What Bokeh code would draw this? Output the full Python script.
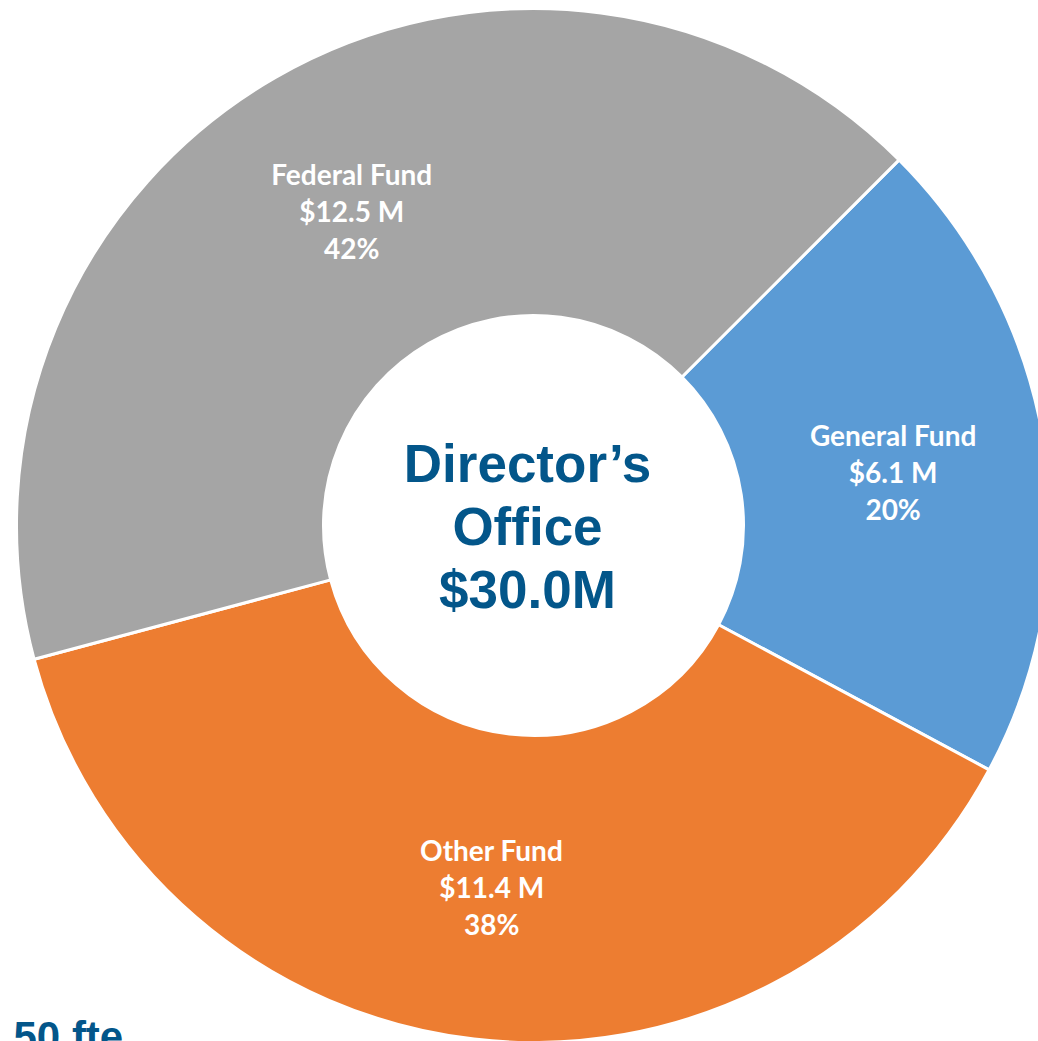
import math
from bokeh.plotting import figure
from bokeh.models import Range1d, ColumnDataSource
from bokeh.core.properties import value
from bokeh.embed import file_html
from bokeh.resources import INLINE

# ---- data ----
categories = ["General Fund", "Other Fund", "Federal Fund"]
amounts = [6.1, 11.4, 12.5]          # $ millions
percent_labels = ["20%", "38%", "42%"]
colors = ["#5B9BD5", "#ED7D31", "#A5A5A5"]
center_lines = ["Director\u2019s", "Office", "$30.0M"]
fte_label = "50 fte"

# ---- geometry (picture pixels used as data units) ----
W, H = 1038, 1041
cx, cy = 533, -525
r_out, r_in = 517, 210
start_deg = 45.0

total = sum(amounts)
starts, ends, mids = [], [], []
a = math.radians(start_deg)
for v in amounts:
    span = 2 * math.pi * v / total
    starts.append(a)
    ends.append(a - span)
    mids.append(a - span / 2)
    a -= span

src = ColumnDataSource(dict(start=starts, end=ends, color=colors))

p = figure(width=W, height=H, output_backend="svg", toolbar_location=None,
           x_range=Range1d(0, W), y_range=Range1d(-H, 0),
           min_border=0, outline_line_color=None, background_fill_color="white",
           border_fill_color="white")
p.axis.visible = False
p.grid.visible = False

p.annular_wedge(x=cx, y=cy, inner_radius=r_in, outer_radius=r_out,
                start_angle="start", end_angle="end", direction="clock",
                fill_color="color", line_color="white", line_width=3, source=src)

# slice labels
r_lab = (r_out + r_in) / 2
lx = [cx + r_lab * math.cos(m) for m in mids]
ly = [cy + r_lab * math.sin(m) for m in mids]
money = ["$%.1f M" % v for v in amounts]
step = 37
for k, txts in enumerate([categories, money, percent_labels]):
    p.text(x=lx, y=[y + (1 - k) * step for y in ly], text=txts,
           text_font=value("Lato"), text_font_style="bold", text_font_size="28px",
           text_color="white", text_align="center", text_baseline="middle")

# center text
center_y = [-463, -526, -589]
p.text(x=[527] * 3, y=center_y, text=center_lines,
       text_font=value("Liberation Sans"), text_font_style="bold",
       text_font_size="53px", text_color="#03568A",
       text_align="center", text_baseline="alphabetic")

p.text(x=[13], y=[-1036], text=[fte_label],
       text_font=value("Liberation Sans"), text_font_style="bold",
       text_font_size="42px", text_color="#03568A",
       text_align="left", text_baseline="alphabetic")

open("out.html", "w").write(file_html(p, INLINE))
